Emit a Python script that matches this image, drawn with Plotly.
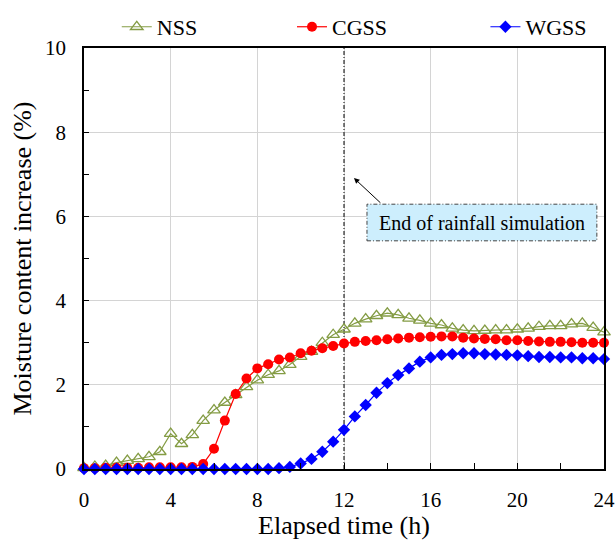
import plotly.graph_objects as go

# ---- data ----
time_h = [i * 0.5 for i in range(49)]

nss = [0.03, 0.06, 0.08, 0.15, 0.20, 0.24, 0.29, 0.41, 0.84, 0.60,
       0.81, 1.15, 1.40, 1.58, 1.76, 1.95, 2.11, 2.24, 2.33, 2.48,
       2.67, 2.79, 3.00, 3.19, 3.32, 3.46, 3.56, 3.64, 3.70, 3.66,
       3.58, 3.53, 3.46, 3.42, 3.34, 3.30, 3.28, 3.29, 3.30, 3.30,
       3.32, 3.34, 3.38, 3.40, 3.40, 3.44, 3.46, 3.36, 3.25]

cgss = [0.02, 0.02, 0.03, 0.03, 0.03, 0.03, 0.04, 0.04, 0.04, 0.04,
        0.05, 0.12, 0.48, 1.15, 1.78, 2.15, 2.39, 2.49, 2.60, 2.65,
        2.75, 2.81, 2.87, 2.92, 2.98, 3.02, 3.04, 3.06, 3.08, 3.10,
        3.12, 3.13, 3.14, 3.15, 3.15, 3.12, 3.10, 3.09, 3.08, 3.06,
        3.06, 3.04, 3.03, 3.02, 3.02, 3.01, 3.00, 3.00, 3.00]

wgss = [0.00, 0.00, 0.00, 0.00, 0.00, 0.00, 0.00, 0.00, 0.00, 0.00,
        0.00, 0.00, 0.00, 0.00, 0.00, 0.00, 0.00, 0.00, 0.02, 0.05,
        0.13, 0.24, 0.41, 0.65, 0.93, 1.25, 1.52, 1.81, 2.04, 2.23,
        2.39, 2.55, 2.65, 2.71, 2.73, 2.75, 2.75, 2.73, 2.72, 2.71,
        2.70, 2.68, 2.66, 2.66, 2.65, 2.65, 2.63, 2.63, 2.61]

series_names = ["NSS", "CGSS", "WGSS"]
rain_end_h = 12
x_ticks = [0, 4, 8, 12, 16, 20, 24]
y_ticks = [0, 2, 4, 6, 8, 10]
note_text = "End of rainfall simulation"

FONT = "Liberation Serif"
OLIVE = "#849C44"

fig = go.Figure()

fig.add_trace(go.Scatter(
    x=time_h, y=nss, name=series_names[0], mode="lines+markers",
    line=dict(color=OLIVE, width=1.2),
    marker=dict(symbol="triangle-up-open", size=11, color=OLIVE, line=dict(width=1.3, color=OLIVE)),
    cliponaxis=False, legend="legend"))
fig.add_trace(go.Scatter(
    x=time_h, y=cgss, name=series_names[1], mode="lines+markers",
    line=dict(color="#FF0000", width=1.2),
    marker=dict(symbol="circle", size=10, color="#FF0000"),
    cliponaxis=False, legend="legend2"))
fig.add_trace(go.Scatter(
    x=time_h, y=wgss, name=series_names[2], mode="lines+markers",
    line=dict(color="#0000FF", width=1.2),
    marker=dict(symbol="diamond", size=9.5, color="#0000FF"),
    cliponaxis=False, legend="legend3"))

# vertical dash-dot line at end of rainfall
fig.add_shape(type="line", x0=rain_end_h, x1=rain_end_h, y0=0, y1=10,
              xref="x", yref="y", line=dict(color="black", width=1, dash="4px,2px,1px,2px"),
              layer="between")

# annotation box
fig.add_shape(type="rect", x0=13.06, x1=23.67, y0=5.42, y1=6.29,
              xref="x", yref="y", fillcolor="#CDEEFD",
              line=dict(color="#444444", width=1, dash="4px,2px,1px,2px"), layer="above")
fig.add_annotation(x=18.37, y=5.855, xref="x", yref="y", text=note_text,
                   showarrow=False, font=dict(family=FONT, size=20, color="black"))
fig.add_annotation(x=12.46, y=6.91, ax=13.75, ay=6.29, xref="x", yref="y",
                   axref="x", ayref="y", text="", showarrow=True,
                   arrowhead=2, arrowsize=1.1, arrowwidth=1, arrowcolor="black")

legend_common = dict(orientation="h", yanchor="middle", y=1.05, xanchor="left",
                     font=dict(family=FONT, size=22, color="black"),
                     bgcolor="rgba(0,0,0,0)", borderwidth=0)

fig.update_layout(
    width=615, height=540,
    margin=dict(l=84, r=11, t=48, b=71, autoexpand=False),
    paper_bgcolor="white", plot_bgcolor="white",
    font=dict(family=FONT, color="black"),
    showlegend=True,
    legend=dict(x=0.063, **legend_common),
    legend2=dict(x=0.40, **legend_common),
    legend3=dict(x=0.772, **legend_common),
    xaxis=dict(
        range=[0, 24], tickvals=x_ticks, ticks="inside", ticklen=6, tickwidth=1,
        tickcolor="black", showgrid=True, gridcolor="#D4D4D4", gridwidth=1,
        showline=True, linecolor="black", linewidth=1.5, mirror=True,
        zeroline=False, tickfont=dict(family=FONT, size=21, color="black"),
        ticklabelstandoff=11,
        minor=dict(dtick=2, ticks="inside", ticklen=6, tickcolor="black", showgrid=False),
        title=dict(text="Elapsed time (h)", font=dict(family=FONT, size=26, color="black"),
                   standoff=0),
    ),
    yaxis=dict(
        range=[0, 10], tickvals=y_ticks, ticks="inside", ticklen=5, tickwidth=1,
        tickcolor="black", showgrid=True, gridcolor="#D4D4D4", gridwidth=1,
        showline=True, linecolor="black", linewidth=1.5, mirror=True,
        zeroline=False, tickfont=dict(family=FONT, size=21, color="black"),
        ticklabelstandoff=12,
        minor=dict(dtick=1, ticks="inside", ticklen=5, tickcolor="black", showgrid=False),
        title=dict(text="Moisture content increase (%)",
                   font=dict(family=FONT, size=26, color="black"), standoff=6),
    ),
)

# remove the default page margin so the 615x540 figure fills the window exactly
fig.write_html("out.html",
               config={"displayModeBar": False},
               post_script="document.body.style.margin='0';document.body.style.overflow='hidden';")
